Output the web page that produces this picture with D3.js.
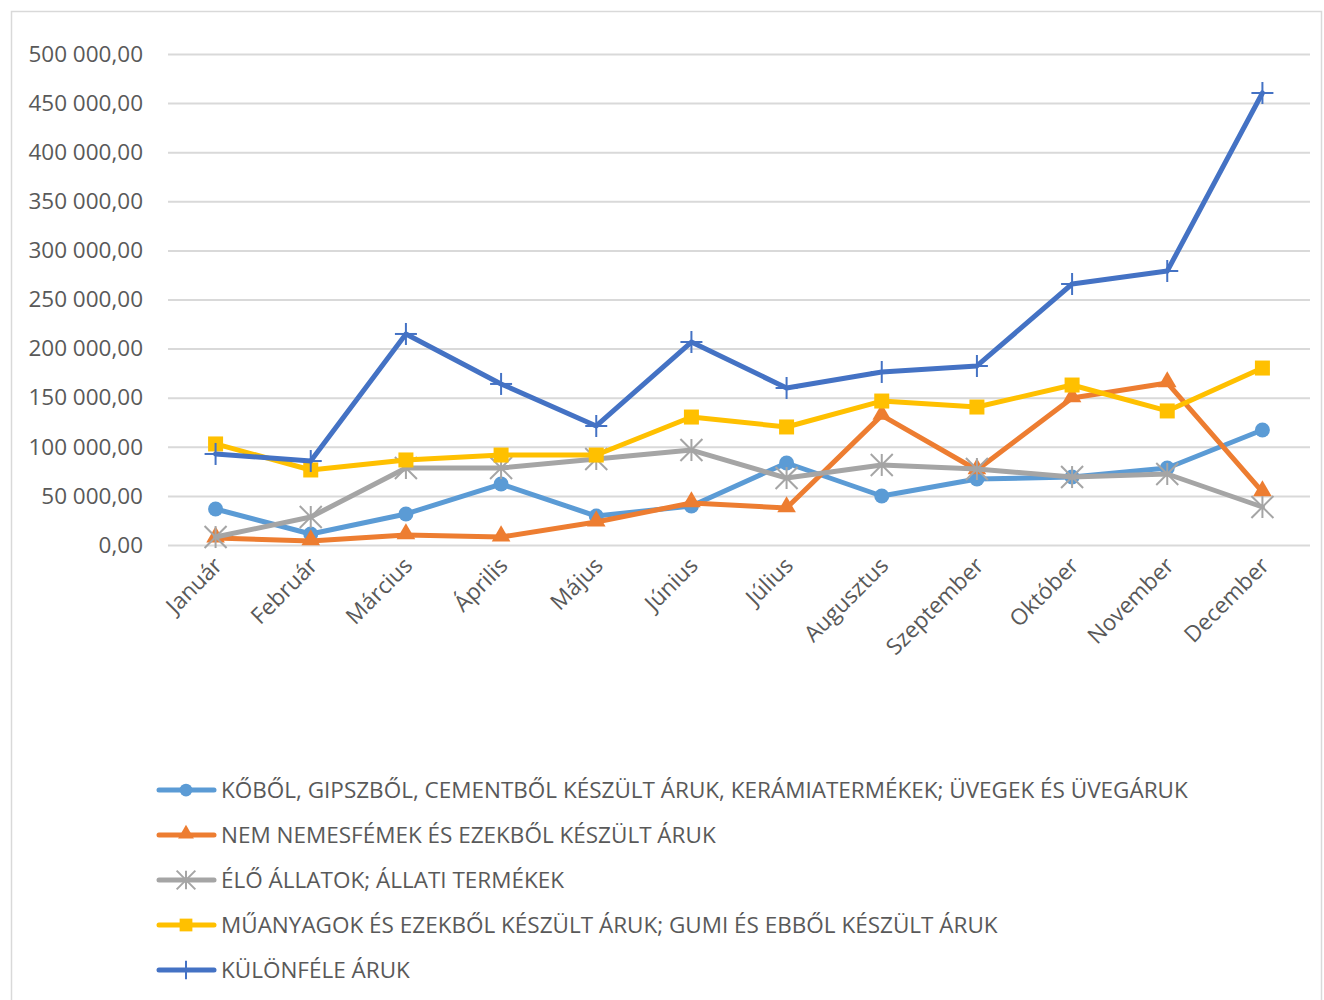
<!DOCTYPE html>
<html>
<head>
<meta charset="utf-8">
<script src="https://cdn.jsdelivr.net/npm/d3@7"></script>
<style>
  body { margin: 0; background: #fff; }
  text { font-family: "Open Sans", "Noto Sans", sans-serif; fill: #595959; }
</style>
</head>
<body>
<svg id="chart" width="1324" height="1000"></svg>
<script>
"use strict";

// Months on the x axis
const months = ["Január", "Február", "Március", "Április", "Május", "Június",
  "Július", "Augusztus", "Szeptember", "Október", "November", "December"];

// Series names (legend order)
const seriesNames = [
  "KŐBŐL, GIPSZBŐL, CEMENTBŐL KÉSZÜLT ÁRUK, KERÁMIATERMÉKEK; ÜVEGEK ÉS ÜVEGÁRUK",
  "NEM NEMESFÉMEK ÉS EZEKBŐL KÉSZÜLT ÁRUK",
  "ÉLŐ ÁLLATOK; ÁLLATI TERMÉKEK",
  "MŰANYAGOK ÉS EZEKBŐL KÉSZÜLT ÁRUK; GUMI ÉS EBBŐL KÉSZÜLT ÁRUK",
  "KÜLÖNFÉLE ÁRUK"
];

// Values
const koboValues = [36700, 11200, 31600, 62100, 29500, 39700, 83500, 49900, 67200, 69200, 78400, 117100];
const femValues = [7100, 4100, 10200, 8100, 23400, 42800, 37700, 132000, 76400, 149700, 165000, 54000];
const allatValues = [8100, 28500, 78400, 78400, 87600, 96700, 68200, 81500, 77400, 69200, 72300, 38700];
const muanyagValues = [102900, 76400, 86600, 91600, 91600, 130300, 120200, 146600, 140500, 162900, 136500, 180200];
const kulonfeleValues = [92700, 85500, 214900, 164000, 121200, 206700, 159900, 176200, 182300, 265800, 279000, 460300];

const yTicks = [0, 50000, 100000, 150000, 200000, 250000, 300000, 350000, 400000, 450000, 500000];

const seriesValues = [koboValues, femValues, allatValues, muanyagValues, kulonfeleValues];
const colors = ["#5b9bd5", "#ed7d31", "#a5a5a5", "#ffc000", "#4472c4"];
const markers = ["circle", "triangle", "star", "square", "plus"];

const fontSize = "22.5px";

const svg = d3.select("#chart");

// Chart area border
svg.append("rect")
    .attr("x", 11.5)
    .attr("y", 11.5)
    .attr("width", 1310)
    .attr("height", 1000)
    .attr("fill", "none")
    .attr("stroke", "#d9d9d9")
    .attr("stroke-width", 1.5);

const plot = { left: 168, right: 1310, top: 54, bottom: 545 };

const x = d3.scaleBand()
    .domain(months)
    .range([plot.left, plot.right]);

const y = d3.scaleLinear()
    .domain([0, 500000])
    .range([plot.bottom, plot.top]);

const fmt = v => d3.format(",.2f")(v).replace(/,/g, " ").replace(".", ",");

// Gridlines + y labels
const yAxis = svg.append("g")
    .attr("transform", "translate(" + plot.left + ",0)")
    .call(d3.axisLeft(y).tickValues(yTicks).tickFormat(fmt)
      .tickSize(-(plot.right - plot.left)).tickPadding(25));

yAxis.select(".domain").remove();
yAxis.selectAll(".tick line")
    .attr("stroke", "#d9d9d9")
    .attr("stroke-width", 2);
yAxis.selectAll(".tick text")
    .style("font-size", fontSize)
    .attr("fill", "#595959");

// X labels, rotated
const xAxis = svg.append("g")
    .attr("transform", "translate(0," + plot.bottom + ")")
    .call(d3.axisBottom(x).tickSize(0).tickPadding(0));

xAxis.select(".domain").remove();
xAxis.selectAll(".tick text")
    .style("font-size", fontSize)
    .attr("fill", "#595959")
    .attr("text-anchor", "end")
    .attr("dy", 0)
    .attr("transform", "translate(8,22) rotate(-45)");

const cx = m => x(m) + x.bandwidth() / 2;

const line = d3.line()
    .x((d, i) => cx(months[i]))
    .y(d => y(d));

function drawMarker(g, type, color, scale) {
  const s = scale || 1;
  if (type === "circle") {
    g.append("circle").attr("r", 7.5 * s).attr("fill", color);
  } else if (type === "triangle") {
    g.append("path")
        .attr("d", d3.symbol().type(d3.symbolTriangle).size(150 * s * s)())
        .attr("transform", "translate(0,-1)")
        .attr("fill", color);
  } else if (type === "square") {
    g.append("rect")
        .attr("x", -7.5 * s).attr("y", -7.5 * s)
        .attr("width", 15 * s).attr("height", 15 * s)
        .attr("fill", color);
  } else if (type === "star") {
    const r = 11 * s;
    const p = [[-r, -r, r, r], [-r, r, r, -r], [0, -r, 0, r]];
    g.selectAll("line.st").data(p).enter().append("line")
        .attr("x1", d => d[0]).attr("y1", d => d[1])
        .attr("x2", d => d[2]).attr("y2", d => d[3])
        .attr("stroke", color).attr("stroke-width", 2);
  } else if (type === "plus") {
    const r = 11 * s;
    const p = [[-r, 0, r, 0], [0, -r, 0, r]];
    g.selectAll("line.pl").data(p).enter().append("line")
        .attr("x1", d => d[0]).attr("y1", d => d[1])
        .attr("x2", d => d[2]).attr("y2", d => d[3])
        .attr("stroke", color).attr("stroke-width", 2);
  }
}

// Series
seriesValues.forEach((vals, k) => {
  const g = svg.append("g");
  g.append("path")
      .datum(vals)
      .attr("d", line)
      .attr("fill", "none")
      .attr("stroke", colors[k])
      .attr("stroke-width", 5)
      .attr("stroke-linejoin", "round")
      .attr("stroke-linecap", "round");

  vals.forEach((v, i) => {
    const mg = g.append("g")
        .attr("transform", "translate(" + cx(months[i]) + "," + y(v) + ")");
    drawMarker(mg, markers[k], colors[k]);
  });
});

// Legend
const legend = svg.append("g");
seriesNames.forEach((name, k) => {
  const ly = 790 + k * 45;
  const lg = legend.append("g").attr("transform", "translate(0," + ly + ")");
  lg.append("line")
      .attr("x1", 159).attr("x2", 214)
      .attr("y1", 0).attr("y2", 0)
      .attr("stroke", colors[k])
      .attr("stroke-width", 5)
      .attr("stroke-linecap", "round");
  const mg = lg.append("g").attr("transform", "translate(186,0)");
  drawMarker(mg, markers[k], colors[k], 0.85);
  lg.append("text")
      .attr("x", 221)
      .attr("y", 0)
      .attr("dy", "0.35em")
      .style("font-size", fontSize)
      .text(name);
});
</script>
</body>
</html>
